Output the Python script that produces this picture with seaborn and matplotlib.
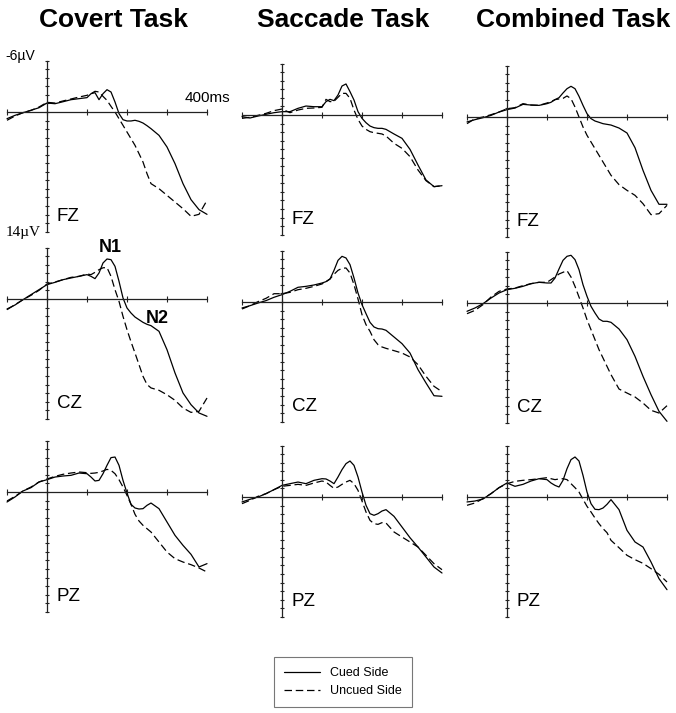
import seaborn as sns
import matplotlib.pyplot as plt
from matplotlib.lines import Line2D

# time points (ms) shared by every trace
times = [-100, -80, -60, -40, -20, 0, 20, 40, 60, 80, 100,
         110, 120, 130, 140, 150, 160, 170, 180, 190, 200, 210, 220, 230, 240, 250,
         260, 280, 300, 320, 340, 360, 380, 400]

tasks = ["Covert Task", "Saccade Task", "Combined Task"]
sites = ["FZ", "CZ", "PZ"]

# amplitudes in microvolts (negative up)
fz_covert_cued = [0.78, 0.39, 0.08, -0.2, -0.5, -1.05, -0.97, -1.2, -1.44, -1.56, -1.68,
                  -2.14, -2.26, -1.44, -2.14, -2.61, -2.34, -1.17, 0.19, 0.9, 1.05, 1.05, 0.97, 1.09, 1.29, 1.6,
                  1.95, 2.73, 4.09, 6.04, 8.38, 10.25, 11.42, 11.97]
fz_covert_uncued = [0.97, 0.47, 0.08, -0.19, -0.58, -1.13, -1.05, -1.29, -1.52, -1.75, -1.95,
                    -2.14, -2.42, -2.34, -1.83, -1.36, -0.66, 0.0, 0.78, 1.56, 2.34, 3.12, 3.9, 4.87, 5.85, 7.21,
                    8.38, 8.97, 9.75, 10.53, 11.31, 12.2, 11.97, 10.33]
cz_covert_cued = [1.17, 0.7, 0.08, -0.51, -1.09, -1.68, -1.95, -2.26, -2.46, -2.65, -2.85,
                  -2.65, -2.38, -3.04, -4.21, -4.68, -4.6, -3.82, -2.07, -0.12, 1.05, 1.64, 2.11, 2.42, 2.73, 2.96,
                  3.12, 3.78, 5.93, 8.65, 10.99, 12.36, 13.33, 13.72]
cz_covert_uncued = [1.25, 0.66, 0.08, -0.43, -1.01, -1.75, -1.99, -2.26, -2.53, -2.65, -2.92,
                    -2.85, -3.12, -3.43, -3.65, -3.68, -2.65, -1.09, 0.27, 2.03, 3.59, 5.0, 6.32, 7.68, 9.04, 10.0,
                    10.4, 10.68, 11.2, 11.85, 12.75, 13.26, 13.14, 11.58]
pz_covert_cued = [1.17, 0.58, -0.12, -0.51, -1.17, -1.44, -1.75, -1.87, -1.95, -2.22, -2.14,
                  -1.75, -1.29, -1.36, -2.14, -3.12, -4.02, -4.09, -3.12, -1.36, 0.12, 1.44, 1.87, 1.99, 1.95, 1.56,
                  1.29, 1.95, 3.51, 5.07, 6.24, 7.29, 8.77, 8.38]
pz_covert_uncued = [1.05, 0.51, -0.12, -0.58, -1.17, -1.52, -1.83, -2.07, -2.22, -2.34, -2.26,
                    -2.18, -2.22, -2.3, -2.46, -2.65, -2.53, -2.14, -1.44, -0.58, 0.39, 1.44, 2.61, 3.39, 3.9, 4.29,
                    4.68, 5.85, 7.02, 7.8, 8.19, 8.5, 8.89, 9.36]

fz_saccade_cued = [0.19, 0.35, 0.12, -0.08, -0.27, -0.39, -0.39, -0.78, -1.05, -0.97, -0.97,
                   -1.56, -1.83, -1.68, -2.34, -3.39, -3.63, -2.73, -1.75, -0.39, 0.39, 0.9, 1.29, 1.48, 1.56, 1.56,
                   1.68, 2.22, 2.73, 4.02, 5.85, 7.6, 8.38, 8.27]
fz_saccade_uncued = [0.39, 0.27, 0.04, -0.19, -0.51, -0.7, -0.27, -0.58, -0.78, -0.82, -0.9,
                     -1.83, -1.56, -1.6, -2.07, -2.53, -2.53, -1.95, -0.58, 0.51, 1.29, 1.68, 1.95, 2.07, 2.14, 2.22,
                     2.46, 3.31, 3.9, 4.87, 6.43, 7.68, 8.38, 8.27]
cz_saccade_cued = [0.7, 0.43, 0.12, -0.16, -0.55, -0.86, -1.25, -1.72, -1.83, -1.99, -2.22,
                   -2.38, -2.69, -3.7, -4.87, -5.34, -5.15, -4.37, -2.81, -1.05, 0.31, 1.36, 2.38, 2.92, 3.12, 3.16,
                   3.31, 4.09, 4.87, 5.97, 7.91, 9.47, 10.96, 11.03]
cz_saccade_uncued = [0.82, 0.43, -0.04, -0.43, -0.97, -0.97, -1.13, -1.44, -1.6, -1.83, -2.11,
                     -2.38, -2.69, -3.24, -3.7, -3.94, -3.98, -3.39, -2.03, -0.35, 1.48, 2.65, 3.43, 4.41, 4.99, 5.26,
                     5.42, 5.69, 5.97, 6.43, 7.33, 8.69, 9.86, 10.49]
pz_saccade_cued = [0.58, 0.27, 0.0, -0.39, -0.86, -1.36, -1.56, -1.75, -1.56, -1.95, -2.14,
                   -2.11, -1.87, -1.56, -2.34, -3.2, -3.9, -4.21, -3.7, -2.34, -0.58, 0.97, 1.95, 2.14, 1.95, 1.64,
                   1.48, 2.26, 3.51, 4.76, 5.85, 7.02, 8.19, 8.89]
pz_saccade_uncued = [0.78, 0.39, -0.08, -0.39, -0.86, -1.25, -1.36, -1.48, -1.36, -1.64, -1.87,
                     -1.75, -1.36, -1.01, -1.17, -1.48, -1.75, -1.95, -1.56, -0.78, 0.47, 1.75, 2.73, 3.12, 3.2, 3.0,
                     3.04, 4.09, 4.68, 5.26, 5.85, 6.82, 7.8, 8.5]

fz_combined_cued = [0.58, 0.31, 0.08, -0.19, -0.58, -0.86, -1.05, -1.48, -1.4, -1.36, -1.56,
                    -1.72, -2.03, -2.26, -2.81, -3.31, -3.59, -3.31, -2.42, -1.36, -0.39, 0.19, 0.47, 0.62, 0.78, 0.86,
                    0.94, 1.29, 1.87, 3.59, 6.24, 8.58, 10.21, 10.21]
fz_combined_uncued = [0.78, 0.19, 0.0, -0.27, -0.58, -0.97, -1.09, -1.56, -1.4, -1.36, -1.64,
                      -1.79, -2.03, -2.11, -2.18, -2.46, -2.14, -1.17, 0.0, 1.17, 2.14, 2.92, 3.7, 4.48, 5.26, 6.04,
                      6.82, 7.91, 8.58, 9.16, 10.14, 11.42, 11.31, 10.33]
cz_combined_cued = [0.97, 0.58, 0.08, -0.58, -1.17, -1.56, -1.72, -1.95, -2.26, -2.42, -2.34,
                    -2.34, -2.92, -3.98, -4.99, -5.46, -5.58, -5.07, -3.9, -2.14, -0.78, 0.39, 1.17, 1.87, 2.14, 2.14,
                    2.26, 3.04, 4.29, 6.24, 8.58, 10.72, 12.67, 13.84]
cz_combined_uncued = [1.25, 0.86, 0.19, -0.7, -1.36, -1.64, -1.75, -2.03, -2.26, -2.42, -2.42,
                      -2.73, -3.04, -3.39, -3.59, -3.78, -3.04, -1.95, -0.7, 0.58, 1.95, 3.12, 4.29, 5.46, 6.43, 7.41,
                      8.38, 10.06, 10.53, 10.99, 11.7, 12.55, 12.87, 12.01]
pz_combined_cued = [0.58, 0.47, 0.23, -0.39, -1.09, -1.64, -1.25, -1.48, -1.87, -2.14, -2.03,
                    -1.64, -1.36, -1.17, -1.95, -3.31, -4.37, -4.68, -4.21, -2.53, -0.58, 0.78, 1.44, 1.48, 1.29, 0.86,
                    0.31, 1.48, 3.9, 5.26, 5.85, 7.6, 9.55, 10.84]
pz_combined_uncued = [0.97, 0.7, 0.19, -0.39, -1.09, -1.56, -1.83, -1.95, -2.03, -2.14, -2.26,
                      -2.14, -2.03, -2.11, -2.14, -2.03, -1.56, -1.09, -0.58, 0.27, 1.09, 1.75, 2.46, 3.12, 3.7, 4.17,
                      5.07, 5.93, 6.82, 7.33, 7.76, 8.38, 9.04, 9.94]

traces = {
    ("FZ", "Covert Task"): (fz_covert_cued, fz_covert_uncued),
    ("CZ", "Covert Task"): (cz_covert_cued, cz_covert_uncued),
    ("PZ", "Covert Task"): (pz_covert_cued, pz_covert_uncued),
    ("FZ", "Saccade Task"): (fz_saccade_cued, fz_saccade_uncued),
    ("CZ", "Saccade Task"): (cz_saccade_cued, cz_saccade_uncued),
    ("PZ", "Saccade Task"): (pz_saccade_cued, pz_saccade_uncued),
    ("FZ", "Combined Task"): (fz_combined_cued, fz_combined_uncued),
    ("CZ", "Combined Task"): (cz_combined_cued, cz_combined_uncued),
    ("PZ", "Combined Task"): (pz_combined_cued, pz_combined_uncued),
}

sns.set_theme(style="white")
plt.rcParams["font.family"] = ["Liberation Sans", "DejaVu Sans"]
plt.rcParams["text.color"] = "black"

W, H = 676, 713
fig = plt.figure(figsize=(W / 100, H / 100), dpi=100)

# panel placement in pixels
col_left = [7, 242, 467]
zero_y = [[112, 115, 117], [299, 302, 303], [492, 497, 497]]
pxuv = 8.55
dash = (0, (6, 3))
axis_col = "#222222"

axes = {}
for r, site in enumerate(sites):
    for c, task in enumerate(tasks):
        top = zero_y[r][c] - 6 * pxuv
        h = 20 * pxuv
        ax = fig.add_axes([col_left[c] / W, 1 - (top + h) / H, 200 / W, h / H])
        ax.patch.set_alpha(0)
        cued, uncued = traces[(site, task)]
        sns.lineplot(x=times, y=cued, ax=ax, color="black", lw=0.9, clip_on=False)
        sns.lineplot(x=times, y=uncued, ax=ax, color="black", lw=0.9, linestyle=dash, clip_on=False)
        ax.set_xlim(-100, 400)
        ax.set_ylim(14, -6)
        ax.spines["left"].set_position(("data", 0))
        ax.spines["bottom"].set_position(("data", 0))
        ax.spines["top"].set_visible(False)
        ax.spines["right"].set_visible(False)
        for s in ["left", "bottom"]:
            ax.spines[s].set_color(axis_col)
            ax.spines[s].set_linewidth(0.9)
        ax.set_xticks([-100, 0, 100, 200, 300, 400])
        ax.set_yticks(range(-6, 15))
        ax.tick_params(axis="x", direction="inout", length=4, width=0.8, color=axis_col,
                       labelbottom=False, bottom=True)
        ax.tick_params(axis="y", direction="inout", length=3.5, width=0.8, color=axis_col,
                       labelleft=False, left=True)
        ax.set_xlabel("")
        ax.set_ylabel("")
        ax.grid(False)
        ax.text(24, 12.8, site, fontsize=13.5, color="black", ha="left", va="baseline")
        axes[(r, c)] = ax

# scale labels and component names on the covert column
a = axes[(0, 0)]
a.text(-30, -6.1, "-6µV", fontsize=10, color="black", ha="right", va="baseline")
a.text(-17, 14.5, "14µV", fontsize=11, color="black", ha="right", va="baseline",
       family=["Liberation Serif", "DejaVu Serif"])
a.text(400, -1.2, "400ms", fontsize=11, color="black", ha="center", va="baseline")
b = axes[(1, 0)]
b.text(159, -5.5, "N1", fontsize=13, fontweight="bold", color="black", ha="center", va="baseline")
b.text(276, 2.8, "N2", fontsize=13, fontweight="bold", color="black", ha="center", va="baseline")

# column titles
for x, task in zip([113.5, 343, 573], tasks):
    fig.text(x / W, 1 - 27 / H, task, fontsize=19, fontweight="bold", color="black",
             ha="center", va="baseline")

handles = [Line2D([], [], color="black", lw=0.9),
           Line2D([], [], color="black", lw=0.9, linestyle=dash)]
leg = fig.legend(handles, ["Cued Side", "Uncued Side"], loc="upper left",
                 bbox_to_anchor=(274 / W, 1 - 657 / H), fontsize=9, frameon=True,
                 fancybox=False, edgecolor="#555555", borderpad=0.8, handlelength=2.9,
                 handletextpad=0.8, labelspacing=0.5, borderaxespad=0)
leg.get_frame().set_linewidth(0.8)
for t in leg.get_texts():
    t.set_color("black")

fig.savefig("out.png", dpi=100)
